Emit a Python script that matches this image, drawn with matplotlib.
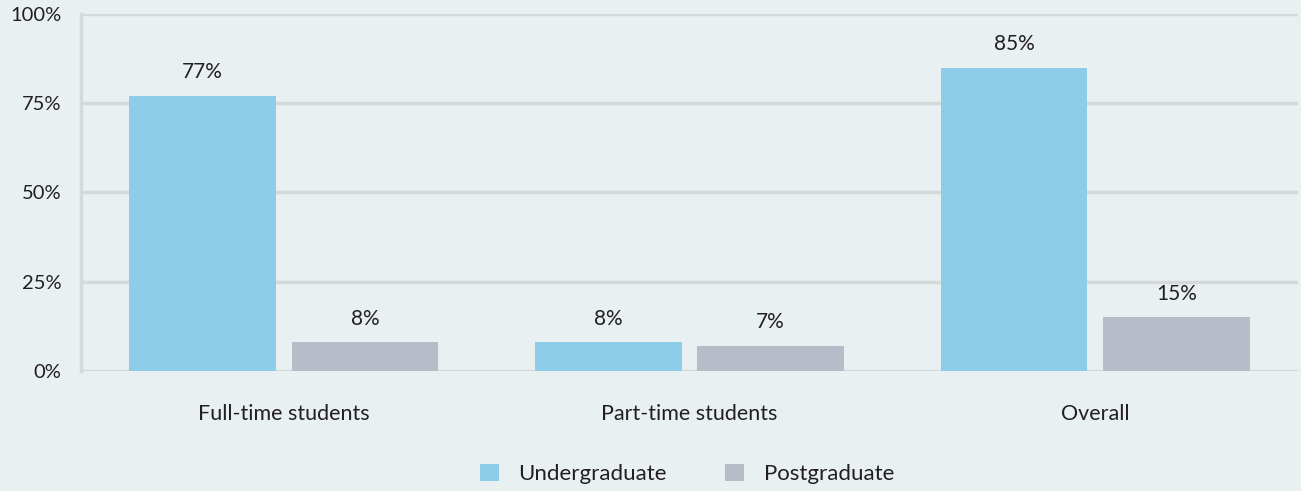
import numpy as np
import matplotlib
matplotlib.use("Agg")
import matplotlib.pyplot as plt

BG    = "#e8f0f2"
BLUE  = "#8ecdea"
GREY  = "#b8bbc8"
GRID  = "#d6d9da"
TEXT  = "#231f20"

categories    = ["Full-time students", "Part-time students", "Overall"]
undergraduate = [77, 8, 85]
postgraduate  = [8, 7, 15]
yticks        = [0, 25, 50, 75, 100]

plt.rcParams["font.family"] = ["Lato", "DejaVu Sans"]

fig = plt.figure(figsize=(13.01, 4.91), dpi=100, facecolor=BG)
ax = fig.add_axes([0.0623, 0.2444, 0.9354, 0.7271])
ax.set_facecolor(BG)

x = np.arange(len(categories))
w = 0.362
off = 0.2
b1 = ax.bar(x - off, undergraduate, w, color=BLUE, label="Undergraduate", zorder=3)
b2 = ax.bar(x + off, postgraduate, w, color=GREY, label="Postgraduate", zorder=3)

for bars, vals in [(b1, undergraduate), (b2, postgraduate)]:
    for r, v in zip(bars, vals):
        ax.annotate(f"{v}%", (r.get_x() + r.get_width() / 2, v),
                    xytext=(0, 10), textcoords="offset points",
                    ha="center", va="bottom", fontsize=15, color=TEXT)

ax.set_xlim(-0.5, 2.5)
ax.set_ylim(0, 100)
ax.set_yticks(yticks)
ax.set_yticklabels([f"{t}%" for t in yticks])
ax.set_xticks(x)
ax.set_xticklabels(categories)
ax.tick_params(axis="y", length=0, pad=14, labelsize=14.5, labelcolor=TEXT)
ax.tick_params(axis="x", length=0, pad=24, labelsize=15.5, labelcolor=TEXT)

ax.yaxis.grid(True, color=GRID, lw=2.5, zorder=1)
ax.set_axisbelow(True)
for s in ["top", "right", "bottom"]:
    ax.spines[s].set_visible(False)
ax.spines["left"].set_color(GRID)
ax.spines["left"].set_linewidth(2.5)

fig.legend(loc="center", bbox_to_anchor=(0.528, 0.035), ncol=2, frameon=False,
           fontsize=16, handlelength=0.85, handleheight=0.85, handletextpad=0.9,
           columnspacing=2.6, labelcolor=TEXT)

fig.savefig("out.png", dpi=100, facecolor=BG)
